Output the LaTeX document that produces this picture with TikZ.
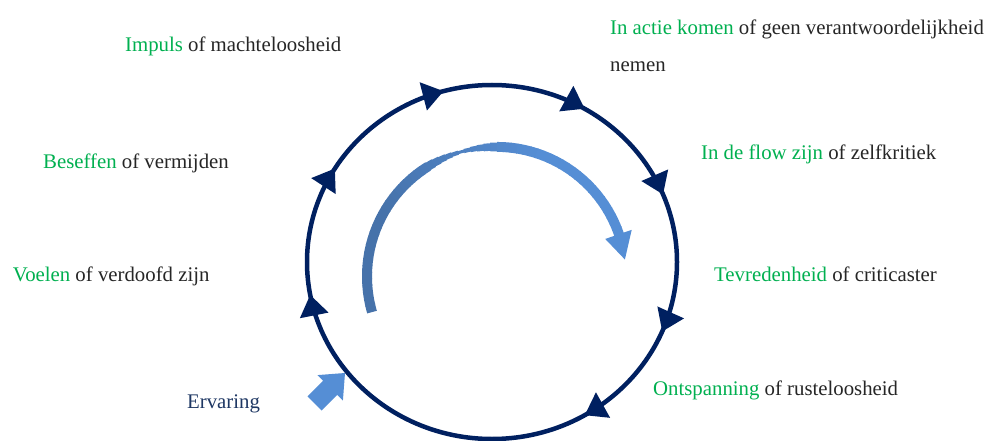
\documentclass[tikz,border=0pt]{standalone}
\usepackage{fontspec}
\setmainfont{Liberation Serif}
\usetikzlibrary{arrows.meta,decorations.markings,calc}
\definecolor{cyclenavy}{HTML}{002060}
\definecolor{grn}{HTML}{00B050}
\definecolor{txt}{HTML}{262626}
\definecolor{ervblue}{HTML}{1F3864}
\definecolor{arlight}{HTML}{558ED5}
\definecolor{ardark}{HTML}{4672AA}
\begin{document}
\begin{tikzpicture}[x=1pt,y=-1pt,
  lbl/.style={anchor=base west, inner sep=0pt, font=\fontsize{20.8}{37}\selectfont, text=txt},
  tipmark/.style={decoration={markings,
     mark=at position #1 with {\arrow[cyclenavy]{Triangle[length=21pt,width=28pt]}}}},
  cyc/.style={line width=4.5pt, draw=cyclenavy}
]
\useasboundingbox (0,0) rectangle (1001,441);
\fill[white] (0,0) rectangle (1001,441);
\coordinate (E) at (492,262);
\coordinate (IC) at (496.5,276.4);

% entry block arrow
\fill[arlight] (345,373) -- (342.9,400.6) -- (337.2,394.9) -- (321.7,410.5) -- (307.5,396.3) -- (323.1,380.8) -- (317.4,375.1) -- cycle;

% main cycle
\draw[cyc,
  postaction={decorate, tipmark=0.063},
  postaction={decorate, tipmark=0.165},
  postaction={decorate, tipmark=0.471},
  postaction={decorate, tipmark=0.587},
  postaction={decorate, tipmark=0.707},
  postaction={decorate, tipmark=0.835},
  postaction={decorate, tipmark=0.939}]
  ($(E)+(185,0)$) arc[start angle=0, end angle=360, x radius=185, y radius=177];

% inner curved arrow with gradient
\foreach \i in {0,...,59}{
  \pgfmathsetmacro\a{-196+\i*2.95}
  \pgfmathsetmacro\b{\a+3.3}
  \pgfmathsetmacro\th{-\a-1.475}
  \pgfmathtruncatemacro\p{max(0,min(100,(150-\th)/80*100))}
  \pgfmathsetmacro\w{10-7*max(0,1-abs(\th-106)/18)}
  \draw[line width=\w pt, arlight!\p!ardark] (IC) ++(\a:129.5) arc[start angle=\a, end angle=\b, radius=129.5];
}
\fill[arlight] ($(IC)+(-19:115)$) -- ($(IC)+(-19:143)$) -- ($(IC)+(-7.5:129.5)$) -- cycle;

% labels
\node[lbl] (impuls) at (125,52) {\textcolor{grn}{Impuls} of machteloosheid};
\node[lbl] (actie) at (610,35) {\begin{tabular}[t]{@{}l@{}}\textcolor{grn}{In actie komen} of geen verantwoordelijkheid\\ nemen\end{tabular}};
\node[lbl] (beseffen) at (43,168) {\textcolor{grn}{Beseffen} of vermijden};
\node[lbl] (flow) at (701,160) {\textcolor{grn}{In de flow zijn} of zelfkritiek};
\node[lbl] (voelen) at (12.7,281) {\textcolor{grn}{Voelen} of verdoofd zijn};
\node[lbl] (tevreden) at (714,281) {\textcolor{grn}{Tevredenheid} of criticaster};
\node[lbl] (ontspanning) at (653,395) {\textcolor{grn}{Ontspanning} of rusteloosheid};
\node[lbl, text=ervblue] (ervaring) at (187,408) {Ervaring};
\end{tikzpicture}
\end{document}
